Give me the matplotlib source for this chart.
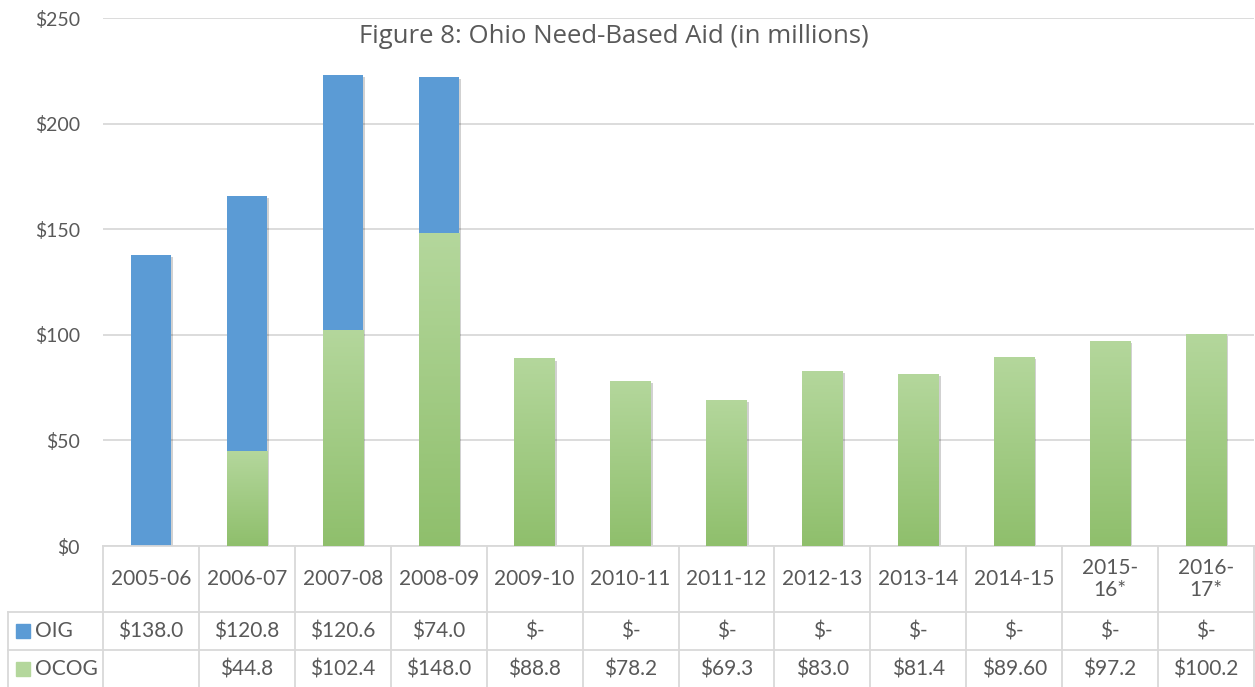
import textwrap
import numpy as np
import matplotlib
matplotlib.use("Agg")
import matplotlib.pyplot as plt
from matplotlib.colors import LinearSegmentedColormap
import matplotlib.patheffects as pe
from matplotlib.patches import Rectangle

# ---- data ----
categories = ["2005-06", "2006-07", "2007-08", "2008-09", "2009-10", "2010-11",
              "2011-12", "2012-13", "2013-14", "2014-15", "2015-16*", "2016-17*"]
oig = [138.0, 120.8, 120.6, 74.0, 0, 0, 0, 0, 0, 0, 0, 0]
ocog = [0, 44.8, 102.4, 148.0, 88.8, 78.2, 69.3, 83.0, 81.4, 89.60, 97.2, 100.2]
oig_text = ["$138.0", "$120.8", "$120.6", "$74.0", "$-", "$-", "$-", "$-", "$-", "$-", "$-", "$-"]
ocog_text = ["", "$44.8", "$102.4", "$148.0", "$88.8", "$78.2", "$69.3", "$83.0",
             "$81.4", "$89.60", "$97.2", "$100.2"]
yticks = [0, 50, 100, 150, 200, 250]
ytick_labels = ["$0", "$50", "$100", "$150", "$200", "$250"]
title = "Figure 8: Ohio Need-Based Aid (in millions)"

BLUE = "#5b9bd5"
GREEN_TOP = "#b4d79c"
GREEN_BOT = "#8fbf6c"
TXT = "#595959"
GRID = "#d9d9d9"
FONT = ["Lato", "DejaVu Sans"]
TFS = 15

W, H = 1255, 687
fig = plt.figure(figsize=(W / 100, H / 100), dpi=100)
ax_left, ax_right = 103 / W, 1254 / W
ax_bot, ax_top = (H - 546) / H, (H - 18) / H
ax = fig.add_axes([ax_left, ax_bot, ax_right - ax_left, ax_top - ax_bot])

n = len(categories)
x = np.arange(n)
bw = 0.42

ax.set_yticks(yticks)
ax.set_yticklabels(ytick_labels, fontfamily=FONT, fontsize=14, color=TXT)
ax.tick_params(axis="y", length=0, pad=16.5)
ax.set_xticks([])
ax.grid(axis="y", color=GRID, lw=1.3)
ax.set_axisbelow(True)
for s in ["top", "right", "left"]:
    ax.spines[s].set_visible(False)
ax.spines["bottom"].set_color(GRID)
ax.spines["bottom"].set_linewidth(1.3)

shadow = [pe.SimplePatchShadow(offset=(1.5, -1.5), shadow_rgbFace="#000000", alpha=0.18), pe.Normal()]
cmap = LinearSegmentedColormap.from_list("g", [GREEN_BOT, GREEN_TOP])
grad = np.linspace(0, 1, 256).reshape(-1, 1)

ocog_bars = ax.bar(x, ocog, bw, color=GREEN_TOP, zorder=2, path_effects=shadow)
for b in ocog_bars:
    h = b.get_height()
    if h <= 0:
        continue
    x0 = b.get_x()
    im = ax.imshow(grad, cmap=cmap, aspect="auto", origin="lower",
                   extent=(x0, x0 + b.get_width(), 0, h), zorder=3)
    im.set_clip_path(b)
oig_bars = ax.bar(x, oig, bw, bottom=ocog, color=BLUE, zorder=2, path_effects=shadow)
ax.set_xlim(-0.5, n - 0.5)
ax.set_ylim(0, 250)

ax.text(0.444, 0.965, title, transform=ax.transAxes, ha="center", va="center",
        fontsize=18.5, color=TXT, fontfamily=["Open Sans", "DejaVu Sans"])

# ---- data table ----
def fx(px):
    return px / W

def fy(py):
    return 1 - py / H

row_y = [546, 612, 650, 688]
cell_w = (1254 - 103) / n
lc = GRID
lw = 1.3
for yy in row_y[1:3]:
    fig.add_artist(plt.Line2D([fx(8), fx(1254)], [fy(yy), fy(yy)], color=lc, lw=lw))
for k in range(n + 1):
    xx = 103 + k * cell_w
    fig.add_artist(plt.Line2D([fx(xx), fx(xx)], [fy(546), fy(687)], color=lc, lw=lw))
fig.add_artist(plt.Line2D([fx(8), fx(8)], [fy(612), fy(687)], color=lc, lw=lw))

for k in range(n):
    cx = fx(103 + (k + 0.5) * cell_w)
    lab = textwrap.fill(categories[k], width=7)
    fig.text(cx, fy((row_y[0] + row_y[1]) / 2), lab, ha="center", va="center",
             fontsize=TFS, color=TXT, fontfamily=FONT, linespacing=1.15)
    fig.text(cx, fy((row_y[1] + row_y[2]) / 2), oig_text[k], ha="center", va="center",
             fontsize=TFS, color=TXT, fontfamily=FONT)
    fig.text(cx, fy((row_y[2] + row_y[3]) / 2), ocog_text[k], ha="center", va="center",
             fontsize=TFS, color=TXT, fontfamily=FONT)

for (name, col, yy) in [("OIG", BLUE, (row_y[1] + row_y[2]) / 2),
                        ("OCOG", GREEN_TOP, (row_y[2] + row_y[3]) / 2)]:
    fig.add_artist(Rectangle((fx(16), fy(yy + 7)), fx(14), 14 / H, color=col,
                             transform=fig.transFigure))
    fig.text(fx(35), fy(yy), name, ha="left", va="center", fontsize=TFS,
             color=TXT, fontfamily=FONT)

fig.savefig("out.png", dpi=100)
